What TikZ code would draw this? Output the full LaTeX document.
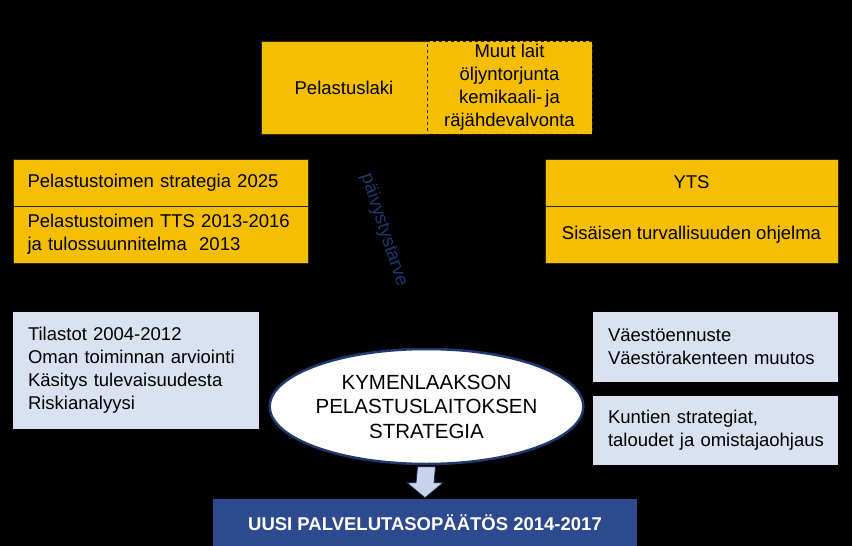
\documentclass[tikz,border=0pt]{standalone}
\usepackage{fontspec}
\setmainfont{Liberation Sans}
\usetikzlibrary{calc,shapes.geometric}
\definecolor{orng}{RGB}{246,190,0}
\definecolor{lblue}{RGB}{218,225,240}
\definecolor{dblue}{RGB}{46,74,143}
\definecolor{navy}{RGB}{31,56,110}
\definecolor{arrowfill}{RGB}{200,212,235}
\tikzset{
  txt/.style={font=\fontsize{18.5}{23}\selectfont},
  obox/.style={txt, fill=orng, draw=black!85, line width=0.6pt, inner sep=0pt, text=black},
  lbox/.style={txt, fill=lblue, inner sep=0pt, text=black},
}
\begin{document}
\begin{tikzpicture}[x=1pt,y=-1pt]
\fill[black] (0,0) rectangle (852,546);
\useasboundingbox (0,0) rectangle (852,546);

\node[obox, minimum width=166, minimum height=93, align=center] (lak) at (344,87.5) {Pelastuslaki};
\node[obox, dashed, minimum width=165, minimum height=93, align=center] (muut) at (509.5,87.5)
  {Muut lait\\öljyntorjunta\\kemikaali-\,ja\\räjähdevalvonta};

\node[obox, minimum width=295, minimum height=47, text width=266, align=left] (s25) at (160.5,182.5)
  {Pelastustoimen strategia 2025};
\node[obox, minimum width=295, minimum height=57, text width=266, align=left] (tts) at (160.5,234.5)
  {Pelastustoimen TTS 2013-2016\\ja tulossuunnitelma\ \ 2013};

\node[obox, minimum width=293, minimum height=47, align=center] (yts) at (691.5,182.5) {YTS};
\node[obox, minimum width=293, minimum height=57, align=center] (sis) at (691.5,234.5)
  {Sisäisen turvallisuuden ohjelma};

\node[txt, text=navy, rotate=-72] (paiv) at (384,230) {päivystystarve};

\node[lbox, minimum width=246, minimum height=117, text width=216, align=left] (til) at (136,370.5)
  {Tilastot 2004-2012\\Oman toiminnan arviointi\\Käsitys tulevaisuudesta\\Riskianalyysi};

\node[lbox, minimum width=245, minimum height=70, text width=215, align=left] (vae) at (715.5,347)
  {Väestöennuste\\Väestörakenteen muutos};
\node[lbox, minimum width=245, minimum height=69, text width=215, align=left] (kun) at (715.5,430.5)
  {Kuntien strategiat,\\\mbox{taloudet ja omistajaohjaus}};

\node[ellipse, fill=white, draw=navy, line width=2.5pt, minimum width=271, minimum height=115,
  inner sep=0pt, align=center, font=\fontsize{20.5}{24.5}\selectfont] (ell) at (426.5,406.5)
  {KYMENLAAKSON\\PELASTUSLAITOKSEN\\STRATEGIA};

\node[fill=dblue, minimum width=424, minimum height=47, inner sep=0pt, text=white,
  font=\fontsize{18.5}{22}\selectfont\bfseries] (uusi) at (425,522.5) {UUSI PALVELUTASOPÄÄTÖS 2014-2017};

\coordinate (at) at ($(ell.south)+(0,1.5)$);
\coordinate (ab) at ($(uusi.north)+(0,-1)$);
\draw[fill=arrowfill, draw=navy!70!black, line width=0.8pt]
  ($(at)+(-9,0)$) -- ($(at)+(9,0)$) -- ($(ab)+(9,-15)$) -- ($(ab)+(18,-15)$) -- (ab)
  -- ($(ab)+(-18,-15)$) -- ($(ab)+(-9,-15)$) -- cycle;
\end{tikzpicture}
\end{document}
